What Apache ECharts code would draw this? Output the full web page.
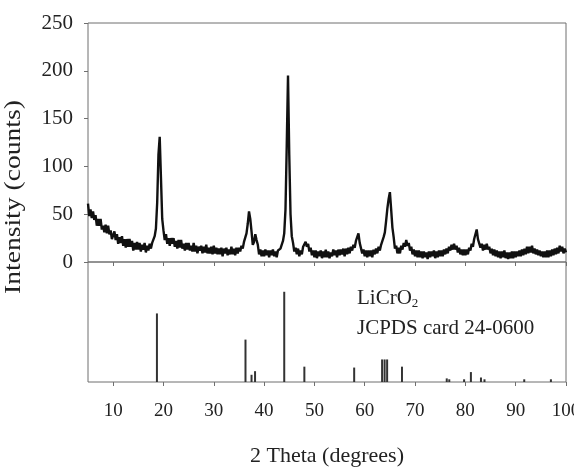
<!DOCTYPE html>
<html>
<head>
<meta charset="utf-8">
<script src="https://cdn.jsdelivr.net/npm/echarts@6/dist/echarts.min.js"></script>
<style>
  html, body { margin: 0; padding: 0; background: #fff; }
  #chart { width: 574px; height: 467px; }
</style>
</head>
<body>
<div id="chart"></div>
<script>
// measured scan: 2 theta from 5 to 100 in 0.25 degree steps
const scanStart = 5;
const scanStep = 0.25;
const scanCounts = [
  61, 48, 55, 46, 53, 44, 49, 38, 45, 38, 45, 34, 38, 31, 39, 30, 38, 29, 33, 24,
  24, 32, 23, 29, 19, 26, 20, 27, 17, 24, 15, 24, 16, 24, 16, 22, 12, 20, 13, 21,
  13, 20, 11, 18, 13, 20, 10, 17, 12, 19, 14, 20, 18, 27, 35, 62, 112, 131, 88, 45,
  33, 23, 29, 19, 25, 17, 25, 19, 25, 16, 22, 14, 23, 15, 23, 14, 19, 12, 20, 13,
  20, 12, 17, 11, 20, 11, 17, 9, 16, 12, 17, 9, 16, 10, 18, 9, 15, 9, 16, 8,
  17, 9, 15, 8, 14, 8, 15, 6, 14, 9, 15, 7, 13, 8, 16, 8, 14, 7, 15, 9,
  15, 11, 17, 14, 21, 20, 30, 40, 53, 45, 32, 18, 21, 29, 23, 18, 8, 13, 6, 12,
  6, 13, 7, 12, 5, 12, 7, 13, 6, 11, 5, 12, 10, 14, 15, 22, 30, 55, 122, 195,
  112, 50, 27, 20, 11, 15, 8, 14, 6, 12, 8, 16, 14, 21, 16, 19, 11, 15, 7, 12,
  5, 12, 4, 11, 6, 12, 4, 11, 5, 13, 5, 11, 4, 10, 6, 13, 7, 12, 5, 13,
  7, 13, 8, 14, 6, 14, 8, 15, 9, 16, 12, 18, 15, 22, 22, 30, 20, 19, 9, 13,
  6, 12, 5, 12, 6, 12, 5, 13, 8, 14, 9, 16, 12, 18, 17, 26, 31, 43, 56, 66,
  73, 55, 36, 26, 14, 17, 9, 15, 9, 17, 13, 20, 16, 23, 17, 20, 12, 16, 8, 13,
  6, 12, 5, 12, 5, 11, 4, 11, 5, 10, 3, 11, 5, 11, 6, 12, 4, 11, 5, 12,
  6, 12, 6, 13, 8, 14, 9, 16, 12, 18, 13, 19, 13, 17, 10, 15, 8, 13, 7, 13,
  7, 13, 8, 15, 12, 19, 16, 24, 24, 34, 24, 23, 15, 19, 12, 18, 13, 19, 13, 16,
  9, 14, 7, 13, 6, 12, 5, 11, 4, 11, 5, 12, 4, 10, 3, 10, 4, 11, 4, 11,
  5, 11, 6, 12, 6, 13, 7, 14, 8, 16, 9, 16, 10, 17, 9, 14, 8, 13, 7, 12,
  6, 11, 5, 11, 5, 12, 5, 12, 6, 13, 7, 14, 8, 15, 9, 17, 11, 16, 9, 14,
  10
];

// JCPDS card 24-0600 reference lines (relative intensity)
const refAngles    = [18.7, 36.3, 37.5, 38.2, 44.0, 48.0, 57.9, 63.45, 63.95, 64.45, 67.4, 76.3, 76.8, 79.75, 81.1, 83.1, 83.8, 91.7, 97.0];
const refIntensity = [76,   47,   8,    12,   100,  17,   16,   25,    25,    25,    17,   4,    3,    3,     11,   5,    3,    3,    3];

const xTicks = [10, 20, 30, 40, 50, 60, 70, 80, 90, 100];
const yTicks = [0, 50, 100, 150, 200, 250];

const scanData = scanCounts.map((c, i) => [scanStart + i * scanStep, c]);
const refData = refAngles.map((a, i) => [a, refIntensity[i]]);

const FONT = "'Liberation Serif', 'DejaVu Serif', serif";
const FRAME = '#6f6f6f';
const TEXT = '#222';

const chart = echarts.init(document.getElementById('chart'), null, { renderer: 'canvas' });

chart.setOption({
  backgroundColor: '#fff',
  animation: false,
  grid: [
    { left: 88, right: 8, top: 23, height: 239, outerBoundsMode: 'none', show: true, borderColor: FRAME, borderWidth: 1, backgroundColor: 'transparent' },
    { left: 88, right: 8, top: 262, height: 120, outerBoundsMode: 'none', show: true, borderColor: FRAME, borderWidth: 1, backgroundColor: 'transparent' }
  ],
  xAxis: [
    {
      type: 'value', gridIndex: 0, min: 5, max: 100,
      axisLine: { show: false },
      axisTick: { show: true, length: 4, customValues: xTicks, lineStyle: { color: FRAME } },
      axisLabel: { show: false },
      splitLine: { show: false }
    },
    {
      type: 'value', gridIndex: 1, min: 5, max: 100,
      axisLine: { show: false },
      axisTick: { show: true, length: 4, customValues: xTicks, lineStyle: { color: FRAME } },
      axisLabel: { customValues: xTicks, margin: 20, fontFamily: FONT, fontSize: 19, color: TEXT },
      splitLine: { show: false },
      name: '2 Theta (degrees)', nameLocation: 'middle', nameGap: 63,
      nameTextStyle: { fontFamily: FONT, fontSize: 22, color: TEXT }
    }
  ],
  yAxis: [
    {
      type: 'value', gridIndex: 0, min: 0, max: 250,
      axisLine: { show: false },
      axisTick: { show: true, length: 4, inside: false, customValues: yTicks, lineStyle: { color: FRAME } },
      axisLabel: { customValues: yTicks, margin: 15, fontFamily: FONT, fontSize: 21, color: TEXT },
      splitLine: { show: false }
    },
    {
      type: 'value', gridIndex: 1, min: 0, max: 133,
      axisLine: { show: false }, axisTick: { show: false }, axisLabel: { show: false },
      splitLine: { show: false }
    }
  ],
  graphic: [
    {
      type: 'text', x: 2, y: 294, rotation: Math.PI / 2, scaleX: 1.15,
      style: { text: 'Intensity (counts)', fontFamily: FONT, fontSize: 24, fill: TEXT }
    },
    {
      type: 'text', x: 357, y: 287,
      style: {
        text: 'LiCrO{s|2}', fontFamily: FONT, fontSize: 21, fill: TEXT,
        rich: { s: { fontFamily: FONT, fontSize: 13, fill: TEXT, verticalAlign: 'bottom', padding: [10, 0, 0, 0] } }
      }
    },
    {
      type: 'text', x: 357, y: 318,
      style: { text: 'JCPDS card 24-0600', fontFamily: FONT, fontSize: 21, fill: TEXT }
    }
  ],
  series: [
    {
      type: 'line', xAxisIndex: 0, yAxisIndex: 0, data: scanData,
      showSymbol: false, lineStyle: { color: '#111', width: 2.4 }
    },
    {
      type: 'bar', xAxisIndex: 1, yAxisIndex: 1, data: refData,
      barWidth: 2, itemStyle: { color: '#333' }
    }
  ]
});
</script>
</body>
</html>
